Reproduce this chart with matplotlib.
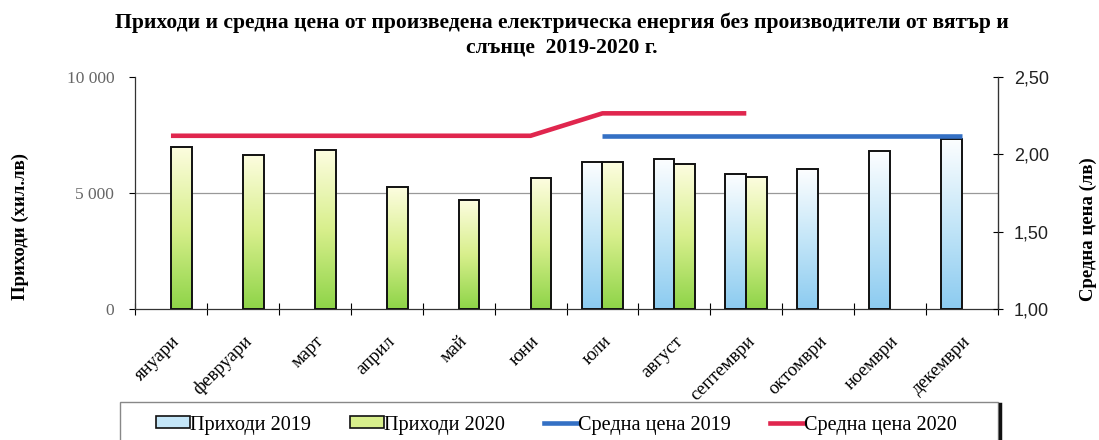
import numpy as np
import matplotlib
matplotlib.use("Agg")
import matplotlib.pyplot as plt
from matplotlib.patches import Patch, Rectangle
from matplotlib.lines import Line2D
from matplotlib.colors import LinearSegmentedColormap
import matplotlib.transforms as mtransforms

months = ["януари", "февруари", "март", "април", "май", "юни", "юли",
          "август", "септември", "октомври", "ноември", "декември"]
rev_2019 = [np.nan, np.nan, np.nan, np.nan, np.nan, np.nan, 6350, 6470, 5820, 6030, 6810, 7330]
rev_2020 = [7000, 6640, 6850, 5245, 4685, 5630, 6320, 6240, 5700, np.nan, np.nan, np.nan]
price_2019 = [np.nan, np.nan, np.nan, np.nan, np.nan, np.nan, 2.12, 2.12, 2.12, 2.12, 2.12, 2.12]
price_2020 = [2.12, 2.12, 2.12, 2.12, 2.12, 2.12, 2.265, 2.265, 2.265, np.nan, np.nan, np.nan]
left_ticks = [0, 5000, 10000]
left_ticklabels = ["0", "5 000", "10 000"]
right_ticks = [1.0, 1.5, 2.0, 2.5]
right_ticklabels = ["1,00", "1,50", "2,00", "2,50"]

title1 = "Приходи и средна цена от произведена електрическа енергия без производители от вятър и"
title2 = "слънце  2019-2020 г."
serif = ["Liberation Serif", "DejaVu Serif"]
sans = ["Liberation Sans", "DejaVu Sans"]

W, H = 1099, 440
fig = plt.figure(figsize=(W/100, H/100), dpi=100)
ax = fig.add_axes([135/W, 1 - 309/H, (998-135)/W, (309-77)/H])
ax2 = ax.twinx()

x = np.arange(len(months))
w = 0.29
cmap19 = LinearSegmentedColormap.from_list("c19", ["#8ccbf0", "#c4e6f8", "#fdfeff"])
cmap20 = LinearSegmentedColormap.from_list("c20", ["#8ed448", "#d8ef8c", "#fdfde0"])
grad = np.linspace(0, 1, 256).reshape(-1, 1)

def gbars(xpos, vals, cmap):
    bars = ax.bar(xpos, vals, width=w, facecolor="none", edgecolor="#111111",
                  linewidth=1.4, zorder=3)
    for b, v in zip(bars, vals):
        if np.isnan(v):
            continue
        x0, y0 = b.get_x(), b.get_y()
        im = ax.imshow(grad, cmap=cmap, aspect="auto", origin="lower",
                       extent=[x0, x0 + b.get_width(), y0, y0 + b.get_height()],
                       zorder=2)
        im.set_clip_path(b)
    return bars

gbars(x - w/2, rev_2019, cmap19)
gbars(x + w/2, rev_2020, cmap20)

ax.set_xlim(-0.5, 11.5)
ax.set_ylim(0, 10000)
ax.set_yticks(left_ticks)
ax.set_yticklabels(left_ticklabels, family=serif, fontsize=12.5, color="#666666")
ax.axhline(5000, color="#999999", linewidth=0.9, zorder=1)
ax.set_xticks(np.arange(-0.5, 12, 1), minor=False)
ax.set_xticklabels([])
ax.set_xticks(x, minor=True)
ax.set_xticklabels(months, minor=True, rotation=45, ha="right", rotation_mode="anchor",
                   family=serif, fontsize=13.5)
offset = mtransforms.ScaledTranslation(9/100, 0, fig.dpi_scale_trans)
for lab in ax.get_xticklabels(minor=True):
    lab.set_transform(lab.get_transform() + offset)
ax.tick_params(axis="x", which="minor", length=0, pad=17)
ax.tick_params(axis="x", which="major", direction="inout", length=8, width=0.8)
ax.tick_params(axis="y", direction="out", length=4, width=0.8, pad=11)
ax.spines["top"].set_visible(False)
ax2.spines["top"].set_visible(False)
for s in ["left", "bottom", "right"]:
    ax.spines[s].set_linewidth(0.9)
    ax.spines[s].set_color("#333333")
ax2.spines["right"].set_color("#333333")
ax2.spines["left"].set_visible(False)
ax2.spines["bottom"].set_visible(False)

ax2.plot(x, price_2020, color="#e0264e", linewidth=3.3, solid_capstyle="butt", zorder=4)
ax2.plot(x, price_2019, color="#3470c4", linewidth=3.3, solid_capstyle="butt", zorder=4)
ax2.set_ylim(1.0, 2.5)
ax2.set_yticks(right_ticks)
ax2.set_yticklabels(right_ticklabels, family=sans, fontsize=13, color="#222222")
ax2.tick_params(axis="y", direction="inout", length=7, width=0.8, pad=8)

fig.text(562/W, 1 - 28/H, title1, ha="center", va="baseline", family=serif, fontsize=15.6,
         fontweight="bold")
fig.text(562/W, 1 - 53/H, title2, ha="center", va="baseline", family=serif, fontsize=15.6,
         fontweight="bold")
fig.text(20/W, 1 - 226/H, "Приходи (хил.лв)", rotation=90, ha="center", va="center",
         family=serif, fontsize=13.5, fontweight="bold")
fig.text(1088/W, 1 - 229/H, "Средна цена (лв)", rotation=90, ha="center", va="center",
         family=serif, fontsize=13.5, fontweight="bold")

# legend box (extends past bottom edge like in the reference)
fig.patches.append(Rectangle((120/W, -0.05), (998-120)/W, 0.05 + 1 - 402/H,
                             transform=fig.transFigure, facecolor="white",
                             edgecolor="#888888", linewidth=1.0, zorder=0))
fig.lines.append(Line2D([1000/W, 1000/W], [0, 1 - 404/H], transform=fig.transFigure,
                        color="#111111", linewidth=2.5))

handles = [Patch(facecolor="#c4e6f8", edgecolor="#111111", linewidth=1.2),
           Patch(facecolor="#d8ef8c", edgecolor="#111111", linewidth=1.2),
           Line2D([], [], color="#3470c4", linewidth=3.3),
           Line2D([], [], color="#e0264e", linewidth=3.3)]
labels = ["Приходи 2019", "Приходи 2020", "Средна цена 2019", "Средна цена 2020"]
leg = fig.legend(handles, labels, loc="center left", bbox_to_anchor=(156/W, 1 - 425/H),
                 ncol=4, prop={"family": serif, "size": 14.6}, frameon=False,
                 handlelength=1.7, handleheight=0.55, handletextpad=0.0,
                 columnspacing=1.9, borderpad=0, borderaxespad=0)

fig.savefig("out.png", dpi=100)
